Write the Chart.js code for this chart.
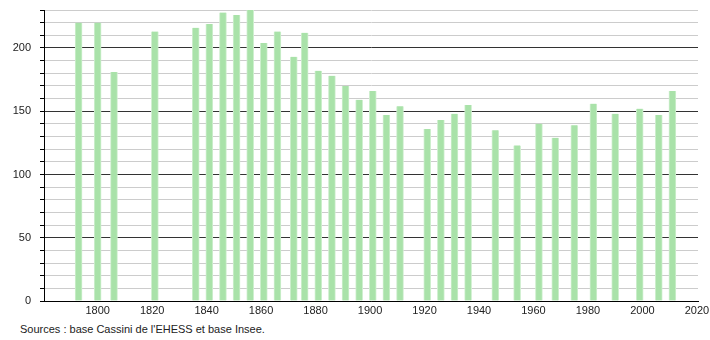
<!DOCTYPE html>
<html lang="fr">
<head>
    <meta charset="UTF-8">
    <title>Population</title>
    <script src="https://cdn.jsdelivr.net/npm/chart.js"></script>
    <style>
        body { margin: 0; background: #fff; }
        .wrap { position: relative; width: 710px; height: 340px; }
        canvas { display: block; }
        .source {
            position: absolute;
            left: 20px;
            top: 323px;
            font: 11px "Liberation Sans", Arial, sans-serif;
            color: #222;
        }
    </style>
</head>
<body>
<div class="wrap">
    <canvas id="chart" width="710" height="316"></canvas>
    <div class="source">Sources : base Cassini de l'EHESS et base Insee.</div>
</div>

<script>
// census years and population
const years = [1793, 1800, 1806, 1821, 1836, 1841, 1846, 1851, 1856, 1861, 1866, 1872, 1876,
    1881, 1886, 1891, 1896, 1901, 1906, 1911, 1921, 1926, 1931, 1936, 1946, 1954, 1962,
    1968, 1975, 1982, 1990, 1999, 2006, 2011];
const population = [220, 220, 181, 213, 216, 219, 228, 226, 230, 204, 213, 193, 212,
    182, 178, 170, 159, 166, 147, 154, 136, 143, 148, 155, 135, 123, 140,
    129, 139, 156, 148, 152, 147, 166];
const xTicks = [1800, 1820, 1840, 1860, 1880, 1900, 1920, 1940, 1960, 1980, 2000, 2020];

const font = { family: '"Liberation Sans", Arial, sans-serif', size: 11 };

new Chart(document.getElementById('chart'), {
    type: 'bar',
    data: {
        datasets: [{
            data: years.map((y, i) => ({ x: y, y: population[i] })),
            backgroundColor: '#a9e2a9',
            borderColor: '#cfefcf',
            borderWidth: { left: 1, right: 1, top: 0, bottom: 0 },
            borderSkipped: false,
            barThickness: 7
        }]
    },
    options: {
        responsive: false,
        animation: false,
        layout: { padding: { top: 10, right: 12, left: 0, bottom: 0 } },
        plugins: { legend: { display: false }, tooltip: { enabled: false } },
        scales: {
            x: {
                type: 'linear',
                min: 1780.3,
                max: 2020.4,
                offset: false,
                afterBuildTicks(scale) {
                    scale.ticks = xTicks.map(v => ({ value: v }));
                },
                afterFit(scale) { scale.height = 15; scale.paddingRight = 0; scale.paddingLeft = 0; },
                grid: { display: true, drawOnChartArea: false, drawTicks: false, offset: false },
                border: { display: true, color: '#000', width: 1 },
                ticks: {
                    font: font,
                    color: '#222',
                    padding: 3,
                    maxRotation: 0,
                    autoSkip: false,
                    callback: v => String(v)
                }
            },
            y: {
                min: 0,
                max: 230,
                afterFit(scale) { scale.width = 44; scale.paddingTop = 0; scale.paddingBottom = 0; },
                grid: {
                    color: ctx => ctx.tick && ctx.tick.value % 50 === 0 ? '#333' : '#cccccc',
                    tickColor: '#000',
                    tickLength: 4
                },
                border: { display: true, color: '#000', width: 1 },
                ticks: {
                    stepSize: 10,
                    font: font,
                    color: '#222',
                    padding: 9,
                    autoSkip: false,
                    callback: v => v % 50 === 0 ? String(v) : ''
                }
            }
        }
    }
});
</script>
</body>
</html>
